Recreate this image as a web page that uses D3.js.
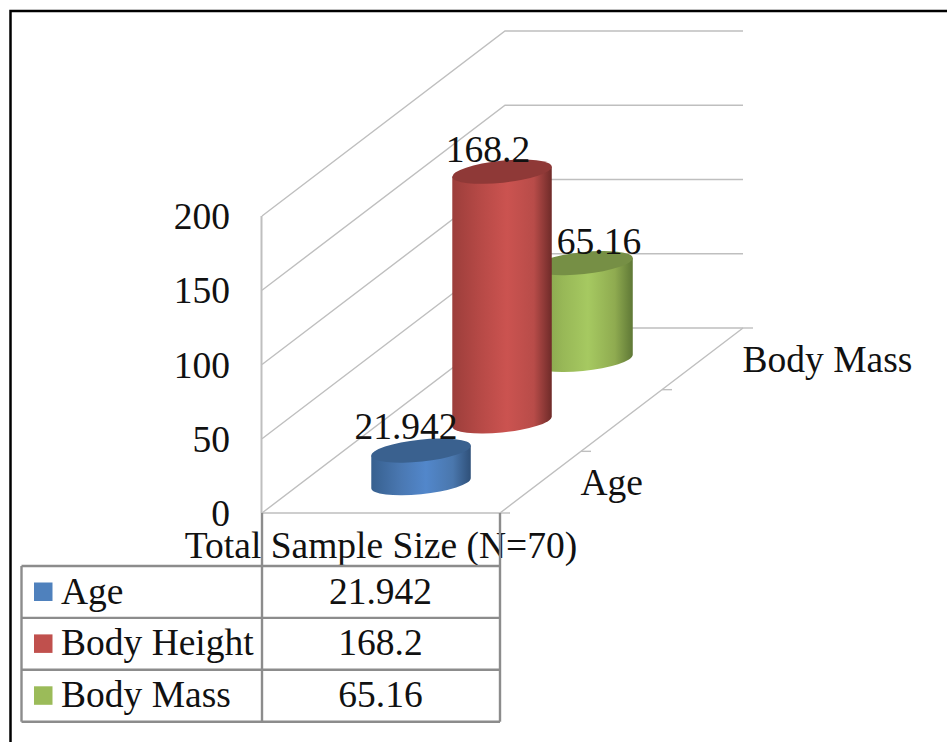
<!DOCTYPE html>
<html>
<head>
<meta charset="utf-8">
<script src="https://cdn.jsdelivr.net/npm/d3@7"></script>
<style>
  html, body { margin: 0; padding: 0; background: #fff; }
  svg { display: block; }
  text { font-family: "Liberation Serif", serif; font-size: 37.5px; fill: #111; }
</style>
</head>
<body>
<svg id="chart" width="947" height="742"></svg>
<script>
// Data
let seriesNames = ['Age', 'Body Height', 'Body Mass']
let seriesValues = [21.942, 168.2, 65.16]
let valueLabels = ['21.942', '168.2', '65.16']
let valueTicks = [0, 50, 100, 150, 200]
let depthLabels = ['Age', '', 'Body Mass']
let categoryLabel = 'Total Sample Size (N=70)'

// Colours: swatch, cylinder top, gradient stops
let swatchColors = ['#4f81bd', '#c0504d', '#9bbb59']
let topColors = ['#3a618f', '#8f3937', '#768f45']
let gradientStops = [
  ['#37608f', '#4a78b2', '#5287cb', '#4a77ad', '#2f5079'],
  ['#9c3e3b', '#b84a47', '#cb5350', '#b84c49', '#6f2b29'],
  ['#7e9a49', '#98b857', '#a6c961', '#8fab50', '#5f7836']
]
// Label offsets from the cylinder's top centre
let labelOffsets = [[-15, -12], [-14, -10], [16, -9]]

let svg = d3.select('#chart')

// Picture frame
svg.append('path')
  .attr('d', 'M10.5,742V11H947')
  .style('fill', 'none')
  .style('stroke', 'black')
  .style('stroke-width', 2.5)

// 3D box: front-left corner, width, depth vector
let originX = 262
let originY = 513
let boxWidth = 238
let depthX = 243
let depthY = -185

let yScale = d3.scaleLinear().domain([0, 200]).range([originY, 216])
let depthScale = d3.scaleBand().domain(seriesNames).range([0, 1])

let floorX = (u, d) => originX + u * boxWidth + d * depthX
let floorY = d => originY + d * depthY

// Walls
let walls = svg.append('g')
  .attr('id', 'walls')
  .style('fill', 'none')
  .style('stroke', '#bfbfbf')
  .style('stroke-width', 1.4)

walls.selectAll('path')
  .data(valueTicks)
  .join('path')
  .attr('d', d => d3.line()([
    [originX, yScale(d)],
    [originX + depthX, yScale(d) + depthY],
    [originX + depthX + boxWidth, yScale(d) + depthY]
  ]))

walls.append('path')
  .attr('d', d3.line()([[originX - 0.5, yScale(0)], [originX - 0.5, yScale(200)]]))
  .style('stroke-width', 2)

// floor front and right edges
walls.append('path')
  .attr('d', d3.line()([
    [originX, originY],
    [floorX(1, 0), originY],
    [floorX(1, 1), floorY(1)]
  ]))

// depth ticks
walls.selectAll('line')
  .data(d3.range(4).map(i => i / 3))
  .join('line')
  .attr('x1', d => floorX(1, d))
  .attr('y1', d => floorY(d))
  .attr('x2', d => floorX(1, d) + 10)
  .attr('y2', d => floorY(d))

// Gradients
let defs = svg.append('defs')
seriesNames.forEach((name, i) => {
  defs.append('linearGradient')
    .attr('id', 'grad' + i)
    .selectAll('stop')
    .data(gradientStops[i])
    .join('stop')
    .attr('offset', (d, j) => [0, 0.3, 0.55, 0.82, 1][j])
    .attr('stop-color', d => d)
})

// Cylinders, back to front
let rx = 50
let ry = 11
let tilt = -6
let rad = tilt * Math.PI / 180
let halfX = Math.sqrt(rx * rx * Math.cos(rad) ** 2 + ry * ry * Math.sin(rad) ** 2)
let halfY = (rx * rx - ry * ry) * Math.sin(rad) * Math.cos(rad) / halfX

let cylinders = seriesNames.map((name, i) => {
  let d = depthScale(name) + depthScale.bandwidth() / 2
  let cx = floorX(0.498, d)
  let base = floorY(d) + 1
  let top = base - (yScale(0) - yScale(seriesValues[i]))
  return { i, cx, base, top }
})

svg.append('g')
  .attr('id', 'cylinders')
  .selectAll('g')
  .data(cylinders.slice().reverse())
  .join('g')
  .each(function (c) {
    let g = d3.select(this)
    let arc = (x, y) => `A${rx},${ry} ${tilt} 0 0 ${x},${y}`
    g.append('path')
      .attr('d', `M${c.cx - halfX},${c.top - halfY}` +
        `L${c.cx - halfX},${c.base - halfY}` +
        arc(c.cx + halfX, c.base + halfY) +
        `L${c.cx + halfX},${c.top + halfY}Z`)
      .style('fill', `url(#grad${c.i})`)
    g.append('ellipse')
      .attr('rx', rx)
      .attr('ry', ry)
      .attr('transform', `translate(${c.cx},${c.top}) rotate(${tilt})`)
      .style('fill', topColors[c.i])
  })

// Value labels
svg.append('g')
  .attr('id', 'labels')
  .selectAll('text')
  .data(cylinders)
  .join('text')
  .attr('x', c => c.cx + labelOffsets[c.i][0])
  .attr('y', c => c.top + labelOffsets[c.i][1])
  .attr('text-anchor', 'middle')
  .text(c => valueLabels[c.i])

// Value axis
let yAxis = d3.axisLeft(yScale)
  .tickValues(valueTicks)
  .tickSize(0)
  .tickPadding(32)

let yAxisG = svg.append('g')
  .attr('transform', `translate(${originX}, 0.5)`)
  .call(yAxis)
yAxisG.select('.domain').remove()
yAxisG.selectAll('text')
  .style('font-family', '"Liberation Serif", serif')
  .style('font-size', '37.5px')
yAxisG.attr('font-size', null).attr('font-family', null)

// Depth labels
svg.append('g')
  .attr('id', 'depth-labels')
  .selectAll('text')
  .data(seriesNames)
  .join('text')
  .attr('x', d => floorX(1, depthScale(d) + depthScale.bandwidth()) - 0.5)
  .attr('y', d => floorY(depthScale(d) + depthScale.bandwidth()) + 44)
  .text((d, i) => depthLabels[i])

svg.append('text')
  .attr('x', floorX(0.5, 0))
  .attr('y', 558)
  .attr('text-anchor', 'middle')
  .text(categoryLabel)

// Data table
let rowH = 51.9
let tableTop = 566
let tableLeft = 21.5
let tableRight = 500
let rowY = d3.scaleBand().domain(seriesNames).range([tableTop, tableTop + rowH * 3])

let table = svg.append('g').attr('id', 'table')

table.append('g')
  .style('stroke', '#8c8c8c')
  .style('stroke-width', 2.4)
  .selectAll('line')
  .data(d3.range(4))
  .join('line')
  .attr('x1', tableLeft)
  .attr('x2', tableRight)
  .attr('y1', i => tableTop + i * rowH)
  .attr('y2', i => tableTop + i * rowH)

table.append('g')
  .style('stroke', '#8c8c8c')
  .style('stroke-width', 2.4)
  .selectAll('line')
  .data([[tableLeft, tableTop], [originX, originY], [tableRight, originY]])
  .join('line')
  .attr('x1', d => d[0])
  .attr('x2', d => d[0])
  .attr('y1', d => d[1])
  .attr('y2', tableTop + rowH * 3)

let rows = table.selectAll('g.row')
  .data(seriesNames)
  .join('g')
  .attr('class', 'row')
  .attr('transform', d => `translate(0, ${rowY(d)})`)

rows.append('rect')
  .attr('x', 34)
  .attr('y', 16.5)
  .attr('width', 18.5)
  .attr('height', 18.5)
  .style('fill', (d, i) => swatchColors[i])

rows.append('text')
  .attr('x', 61)
  .attr('y', 37.5)
  .text(d => d)

rows.append('text')
  .attr('x', 380.5)
  .attr('y', 37.5)
  .attr('text-anchor', 'middle')
  .text((d, i) => valueLabels[i])
</script>
</body>
</html>
